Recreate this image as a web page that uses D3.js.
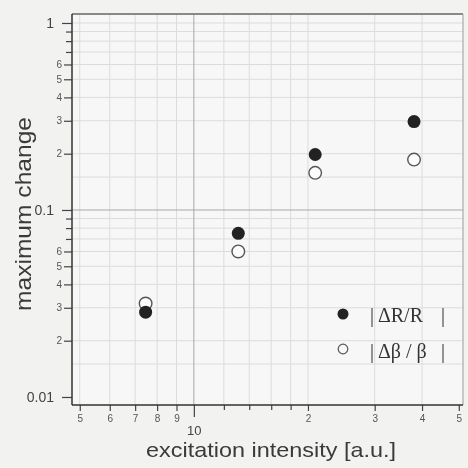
<!DOCTYPE html>
<html>
<head>
<meta charset="utf-8">
<script src="https://cdn.jsdelivr.net/npm/d3@7"></script>
<style>
  html, body { margin: 0; padding: 0; background: #f2f2f1; }
  svg { display: block; filter: grayscale(1); }
</style>
</head>
<body>
<svg id="chart" width="468" height="468"></svg>
<script>
// Measured maximum changes versus excitation intensity
const intensity = [7.46, 13.1, 20.9, 38.1];
const deltaR = [0.0284, 0.075, 0.198, 0.297];      // |ΔR/R|
const deltaBeta = [0.0316, 0.060, 0.158, 0.186];   // |Δβ/β|

// Tick definitions
const xMajor = [10];
const xMinorLabeled = [5, 6, 7, 8, 9, 20, 30, 40, 50];
const xMinorLabels = ["5", "6", "7", "8", "9", "2", "3", "4", "5"];
const xMinorPlain = [12, 14, 16, 18];
const yMajor = [1, 0.1, 0.01];
const yMajorLabels = ["1", "0.1", "0.01"];
const yMinorLabeled = [0.6, 0.5, 0.4, 0.3, 0.2, 0.06, 0.05, 0.04, 0.03, 0.02];
const yMinorLabels = ["6", "5", "4", "3", "2", "6", "5", "4", "3", "2"];
const yMinorPlain = [0.9, 0.8, 0.7, 0.09, 0.08, 0.07];
const xGrid = [5, 6, 7, 8, 9, 12, 14, 16, 18, 20, 30, 40];
const yGrid = [1, 0.9, 0.8, 0.7, 0.6, 0.5, 0.4, 0.3, 0.2, 0.15,
               0.09, 0.08, 0.07, 0.06, 0.05, 0.04, 0.03, 0.02, 0.015];

const pLeft = 72, pRight = 463, pTop = 14, pBottom = 405;

const x = d3.scaleLog().domain([4.77, 51.3]).range([pLeft, pRight]);
const y = d3.scaleLog().domain([0.00906, 1.117]).range([pBottom, pTop]);

const svg = d3.select("#chart");
const sans = "'Liberation Sans', Arial, sans-serif";
const serif = "'Liberation Serif', 'Times New Roman', serif";

// plot area
svg.append("rect")
  .attr("x", pLeft).attr("y", pTop)
  .attr("width", pRight - pLeft).attr("height", pBottom - pTop)
  .attr("fill", "#f7f7f6");

// light grid
const grid = svg.append("g").attr("stroke", "#dcdcdc").attr("stroke-width", 1);
grid.selectAll("line.gx").data(xGrid).join("line")
  .attr("class", "gx")
  .attr("x1", d => x(d)).attr("x2", d => x(d))
  .attr("y1", pTop).attr("y2", pBottom);
grid.selectAll("line.gy").data(yGrid).join("line")
  .attr("class", "gy")
  .attr("y1", d => y(d)).attr("y2", d => y(d))
  .attr("x1", pLeft).attr("x2", pRight);

// decade grid lines
const major = svg.append("g").attr("stroke", "#a8a8a8").attr("stroke-width", 1);
major.append("line")
  .attr("x1", x(10)).attr("x2", x(10)).attr("y1", pTop).attr("y2", pBottom);
major.append("line")
  .attr("y1", y(0.1)).attr("y2", y(0.1)).attr("x1", pLeft).attr("x2", pRight);

// frame
svg.append("line").attr("x1", pLeft).attr("x2", pRight).attr("y1", pTop).attr("y2", pTop)
  .attr("stroke", "#666").attr("stroke-width", 1.5);
svg.append("line").attr("x1", pRight).attr("x2", pRight).attr("y1", pTop).attr("y2", pBottom)
  .attr("stroke", "#aaa").attr("stroke-width", 1.2);

// axes
function styleAxis(g) {
  g.select(".domain").remove();
  g.selectAll(".tick line").attr("stroke", "#444").attr("stroke-width", 1.2);
  g.selectAll(".tick text").attr("fill", "#555").attr("font-family", sans);
}

// y axis
svg.append("g").attr("transform", `translate(${pLeft},0)`)
  .call(d3.axisLeft(y).tickValues(yMajor).tickSize(10).tickPadding(8)
    .tickFormat((d, i) => yMajorLabels[i]))
  .call(styleAxis)
  .call(g => g.selectAll(".tick text").attr("font-size", 14).attr("fill", "#444"));
svg.append("g").attr("transform", `translate(${pLeft},0)`)
  .call(d3.axisLeft(y).tickValues(yMinorLabeled).tickSize(8).tickPadding(2)
    .tickFormat((d, i) => yMinorLabels[i]))
  .call(styleAxis)
  .call(g => g.selectAll(".tick text").attr("font-size", 10));
svg.append("g").attr("transform", `translate(${pLeft},0)`)
  .call(d3.axisLeft(y).tickValues(yMinorPlain).tickSize(6).tickFormat(""))
  .call(styleAxis);
svg.append("line").attr("x1", pLeft).attr("x2", pLeft).attr("y1", pTop).attr("y2", pBottom)
  .attr("stroke", "#333").attr("stroke-width", 1.5);

// x axis
svg.append("g").attr("transform", `translate(0,${pBottom})`)
  .call(d3.axisBottom(x).tickValues(xMajor).tickSize(12).tickPadding(9)
    .tickFormat(d => String(d)))
  .call(styleAxis)
  .call(g => g.selectAll(".tick text").attr("font-size", 13).attr("fill", "#444"));
svg.append("g").attr("transform", `translate(0,${pBottom})`)
  .call(d3.axisBottom(x).tickValues(xMinorLabeled).tickSize(6).tickPadding(4)
    .tickFormat((d, i) => xMinorLabels[i]))
  .call(styleAxis)
  .call(g => g.selectAll(".tick text").attr("font-size", 10));
svg.append("g").attr("transform", `translate(0,${pBottom})`)
  .call(d3.axisBottom(x).tickValues(xMinorPlain).tickSize(5).tickFormat(""))
  .call(styleAxis);
svg.append("line").attr("x1", pLeft).attr("x2", pRight).attr("y1", pBottom).attr("y2", pBottom)
  .attr("stroke", "#333").attr("stroke-width", 1.5);

// axis titles
svg.append("text")
  .attr("x", 271).attr("y", 457)
  .attr("text-anchor", "middle")
  .attr("font-family", sans).attr("font-size", 21).attr("fill", "#3a3a3a")
  .attr("textLength", 250).attr("lengthAdjust", "spacingAndGlyphs")
  .text("excitation intensity [a.u.]");
svg.append("text")
  .attr("transform", "translate(31,214) rotate(-90)")
  .attr("text-anchor", "middle")
  .attr("font-family", sans).attr("font-size", 22).attr("fill", "#3a3a3a")
  .attr("textLength", 194).attr("lengthAdjust", "spacingAndGlyphs")
  .text("maximum change");

// data points
const pts = svg.append("g");
pts.selectAll("circle.open").data(intensity).join("circle")
  .attr("class", "open")
  .attr("cx", d => x(d)).attr("cy", (d, i) => y(deltaBeta[i]))
  .attr("r", 6.3)
  .attr("fill", "#fbfbfb").attr("stroke", "#555").attr("stroke-width", 1.4);
pts.selectAll("circle.filled").data(intensity).join("circle")
  .attr("class", "filled")
  .attr("cx", d => x(d)).attr("cy", (d, i) => y(deltaR[i]))
  .attr("r", 6.5)
  .attr("fill", "#222");

// legend
const legend = svg.append("g");
legend.append("circle").attr("cx", 343).attr("cy", 314).attr("r", 5.5).attr("fill", "#222");
legend.append("circle").attr("cx", 343).attr("cy", 349).attr("r", 4.8)
  .attr("fill", "none").attr("stroke", "#555").attr("stroke-width", 1.2);

const t1 = legend.append("text").attr("x", 370).attr("y", 322)
  .attr("font-family", serif).attr("font-size", 20).attr("fill", "#333");
t1.append("tspan").text("| ΔR/R");
t1.append("tspan").attr("x", 441).text("|");

const t2 = legend.append("text").attr("x", 370).attr("y", 358)
  .attr("font-family", serif).attr("font-size", 20).attr("fill", "#333");
t2.append("tspan").text("| Δβ / β");
t2.append("tspan").attr("x", 441).text("|");
</script>
</body>
</html>
